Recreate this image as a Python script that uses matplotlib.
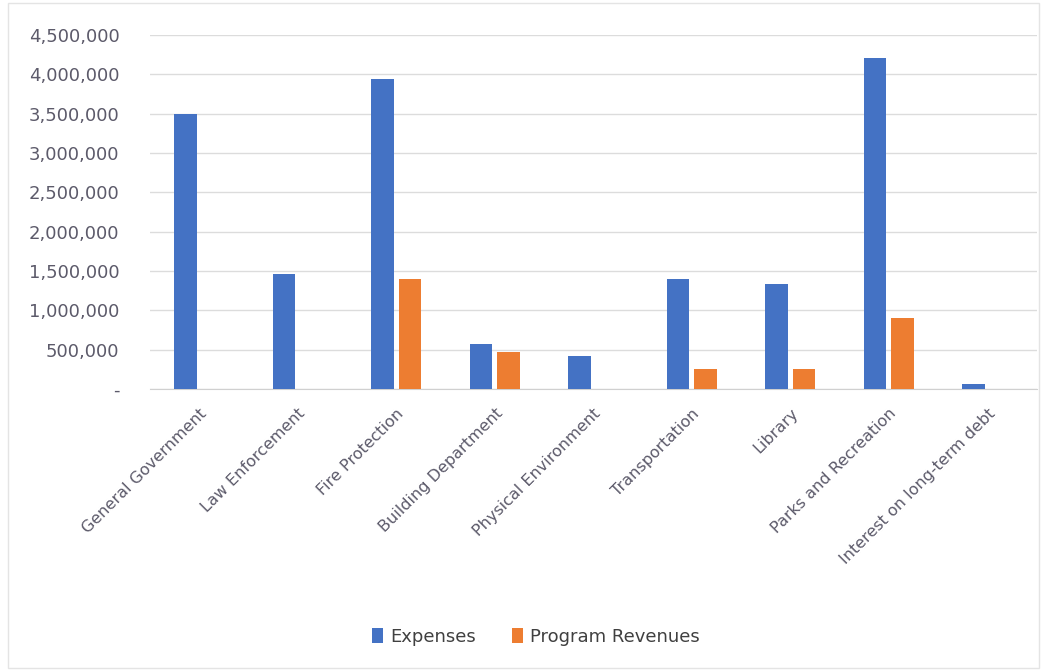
import matplotlib.pyplot as plt
import matplotlib.patches as patches
import numpy as np
from matplotlib.ticker import FuncFormatter

# data
categories = ["General Government", "Law Enforcement", "Fire Protection",
              "Building Department", "Physical Environment", "Transportation",
              "Library", "Parks and Recreation", "Interest on long-term debt"]
expenses = [3490000, 1460000, 3940000, 575000, 425000, 1400000, 1330000, 4210000, 60000]
revenues = [0, 0, 1400000, 470000, 0, 255000, 255000, 905000, 0]

blue = '#4472C4'
orange = '#ED7D31'
text_col = '#5c5a6a'

fig = plt.figure(figsize=(10.45, 6.72), dpi=100)
ax = fig.add_axes([0.1435, 0.421, 0.8485, 0.527])

x = np.arange(len(categories))
w = 0.23
ax.bar(x - 0.14, expenses, w, color=blue, label='Expenses', zorder=3)
ax.bar(x + 0.14, revenues, w, color=orange, label='Program Revenues', zorder=3)

ax.set_xlim(-0.5, len(categories) - 0.5)
ax.set_ylim(0, 4500000)
ax.set_yticks(np.arange(0, 4500001, 500000))
ax.yaxis.set_major_formatter(FuncFormatter(lambda v, p: '-' if v == 0 else f'{int(v):,}'))
ax.grid(axis='y', color='#dcdcdc', linewidth=1, zorder=0)
for s in ['top', 'right', 'left']:
    ax.spines[s].set_visible(False)
ax.spines['bottom'].set_color('#d0d0d0')
ax.tick_params(axis='both', length=0, colors=text_col)
ax.tick_params(axis='y', pad=22, labelsize=13)

ax.set_xticks(x)
ax.set_xticklabels(categories, rotation=45, ha='right', rotation_mode='anchor',
                   fontsize=11.5, color=text_col)
ax.tick_params(axis='x', pad=12)

ax.legend(loc='center', bbox_to_anchor=(0.513, 0.052), bbox_transform=fig.transFigure,
          ncol=2, frameon=False, fontsize=13, handlelength=0.6, handleheight=0.9,
          handletextpad=0.4, columnspacing=2.0, labelcolor='#404040')

# faint chart border
fig.patches.append(patches.Rectangle((0.008, 0.006), 0.986, 0.99, transform=fig.transFigure,
                                     fill=False, edgecolor='#e4e4e4', linewidth=1))

fig.savefig('out.png', dpi=100)
